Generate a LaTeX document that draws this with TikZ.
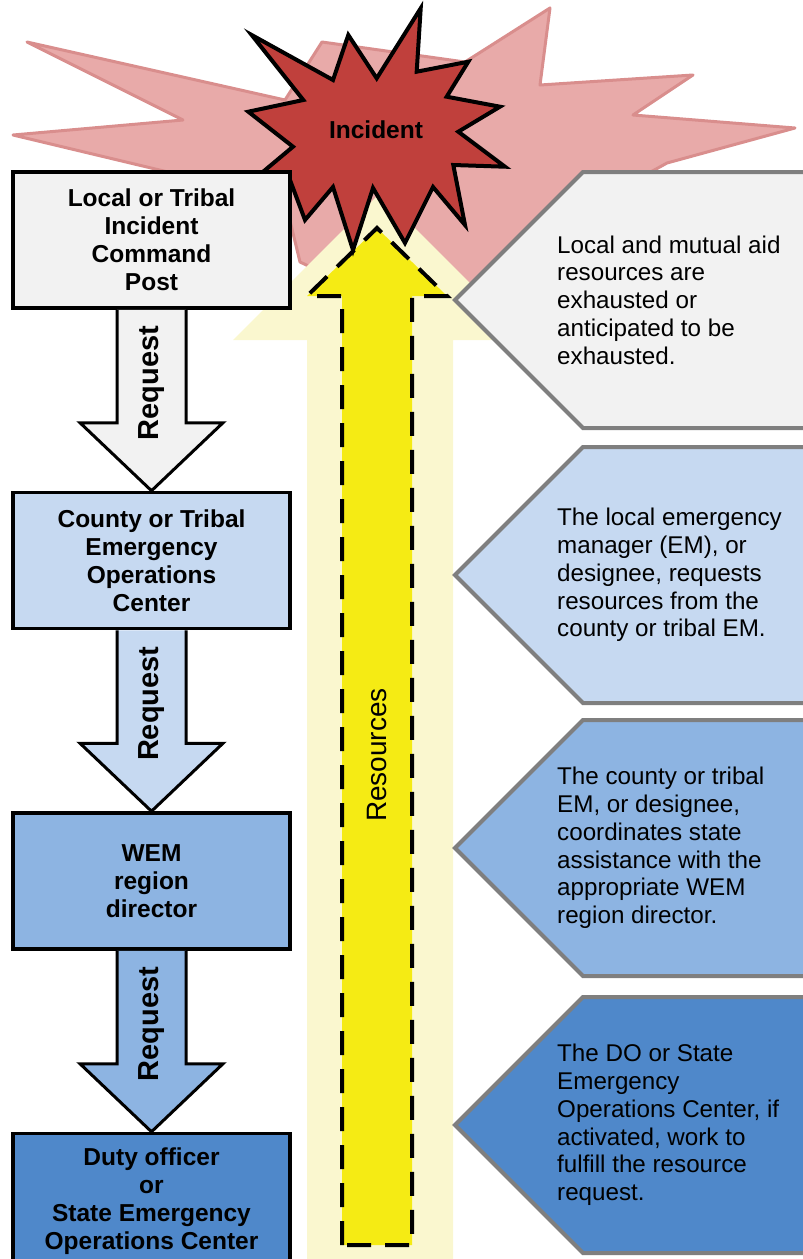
\documentclass[tikz,border=0pt]{standalone}
\usepackage{fontspec}
\setmainfont{Liberation Sans}
\usetikzlibrary{positioning, calc}

\definecolor{boxgrey}{HTML}{F2F2F2}
\definecolor{boxpale}{HTML}{C6D9F1}
\definecolor{boxmid}{HTML}{8DB4E2}
\definecolor{boxdark}{HTML}{4F88CA}
\definecolor{burstred}{HTML}{C0403C}
\definecolor{burstpink}{HTML}{E8AAA9}
\definecolor{burstedge}{HTML}{D98E8D}
\definecolor{paleyellow}{HTML}{FAF7CF}
\definecolor{brightyellow}{HTML}{F5EB14}
\definecolor{calloutedge}{HTML}{7F7F7F}

\tikzset{
	levelbox/.style={draw=black, line width=3.5pt, minimum width=277pt, minimum height=136pt,
		align=center, inner sep=0pt, font=\fontsize{24.5}{28}\selectfont\bfseries},
	reqarrow/.style={draw=black, line width=3pt, line join=miter},
	reqlabel/.style={rotate=90, inner sep=0pt, font=\fontsize{29}{32}\selectfont\bfseries},
	notetext/.style={anchor=west, align=left, inner sep=0pt, font=\fontsize{24.2}{27.8}\selectfont},
	callout/.style={draw=calloutedge, line width=4pt, line join=miter}
}

% request arrow from one box down to the next
\newcommand{\requestarrow}[3]{%
	\draw[reqarrow, fill=#3] ($(#1.south)+(-34.5,0)$) -- ($(#2.north)+(-34.5,-68)$)
		-- ($(#2.north)+(-71.5,-68)$) -- (#2.north) -- ($(#2.north)+(71.5,-68)$)
		-- ($(#2.north)+(34.5,-68)$) -- ($(#1.south)+(34.5,0)$);
	\node[reqlabel] (#1req) at ($(#1.south)!0.5!(#2.north)+(0,-17)$) {Request};
}

% pointer box on the right
\newcommand{\callout}[4]{%
	\draw[callout, fill=#3] (810,#2-128) -- (583,#2-128) -- (455,#2) -- (583,#2+128) -- (810,#2+128);
	\node[notetext] (#1) at (557,#2) {#4};
}

\begin{document}
\begin{tikzpicture}[x=1pt, y=-1pt]

	\useasboundingbox (0,0) rectangle (803,1259);

	% burst behind
	\draw[fill=burstpink, draw=burstedge, line width=3pt, line join=round]
		(27,42) -- (285,100) -- (322,42) -- (465,62) -- (550,8) -- (540,85) -- (693,75)
		-- (633,115) -- (795,128) -- (667,163) -- (600,200) -- (480,290) -- (380,300)
		-- (300,262) -- (285,200) -- (13,135) -- (183,120) -- cycle;

	% resources arrows
	\fill[paleyellow] (307,1259) -- (307,340) -- (233,340) -- (380,193) -- (527,340)
		-- (453,340) -- (453,1259) -- cycle;
	\draw[fill=brightyellow, line width=4pt, dash pattern=on 24pt off 14pt]
		(342,1245) -- (342,296) -- (307,296) -- (377,228) -- (447,296) -- (412,296)
		-- (412,1245) -- cycle;
	\node[rotate=90, inner sep=0pt, font=\fontsize{28}{30}\selectfont] (res) at (377,755) {Resources};

	% incident
	\draw[fill=burstred, line width=4pt, line join=miter]
		(251.7,35) -- (333,80) -- (348.3,35) -- (376.7,78.3) -- (420.7,8.3) -- (416.7,71.7)
		-- (468.3,61.7) -- (446.7,96.7) -- (500,106.7) -- (458.3,131.7) -- (505,166.7)
		-- (453.3,165) -- (465,225) -- (433,187) -- (405,243) -- (373,188) -- (353,250)
		-- (333,187) -- (305,220) -- (290,180) -- (250,182.7) -- (293,146.7)
		-- (248.3,111.7) -- (303.3,100) -- cycle;
	\node[font=\fontsize{24.5}{28}\selectfont\bfseries] (incident) at (376,130) {Incident};

	% levels
	\node[levelbox, fill=boxgrey] (local) at (151.5,240) {Local or Tribal\\Incident\\Command\\Post};
	\node[levelbox, fill=boxpale, below=181pt of local] (county) {County or Tribal\\Emergency\\Operations\\Center};
	\node[levelbox, fill=boxmid, below=181pt of county] (wem) {WEM\\region\\director};
	\node[levelbox, fill=boxdark, below=181pt of wem] (state) {Duty officer\\or\\State Emergency\\Operations Center};

	\requestarrow{local}{county}{boxgrey}
	\requestarrow{county}{wem}{boxpale}
	\requestarrow{wem}{state}{boxmid}

	% notes
	\callout{note1}{300}{boxgrey}{Local and mutual aid\\resources are\\exhausted or\\anticipated to be\\exhausted.}
	\callout{note2}{575}{boxpale}{The local emergency\\manager (EM), or\\designee, requests\\resources from the\\county or tribal EM.}
	\callout{note3}{848}{boxmid}{The county or tribal\\EM, or designee,\\coordinates state\\assistance with the\\appropriate WEM\\region director.}
	\callout{note4}{1125}{boxdark}{The DO or State\\Emergency\\Operations Center, if\\activated, work to\\fulfill the resource\\request.}

\end{tikzpicture}
\end{document}
